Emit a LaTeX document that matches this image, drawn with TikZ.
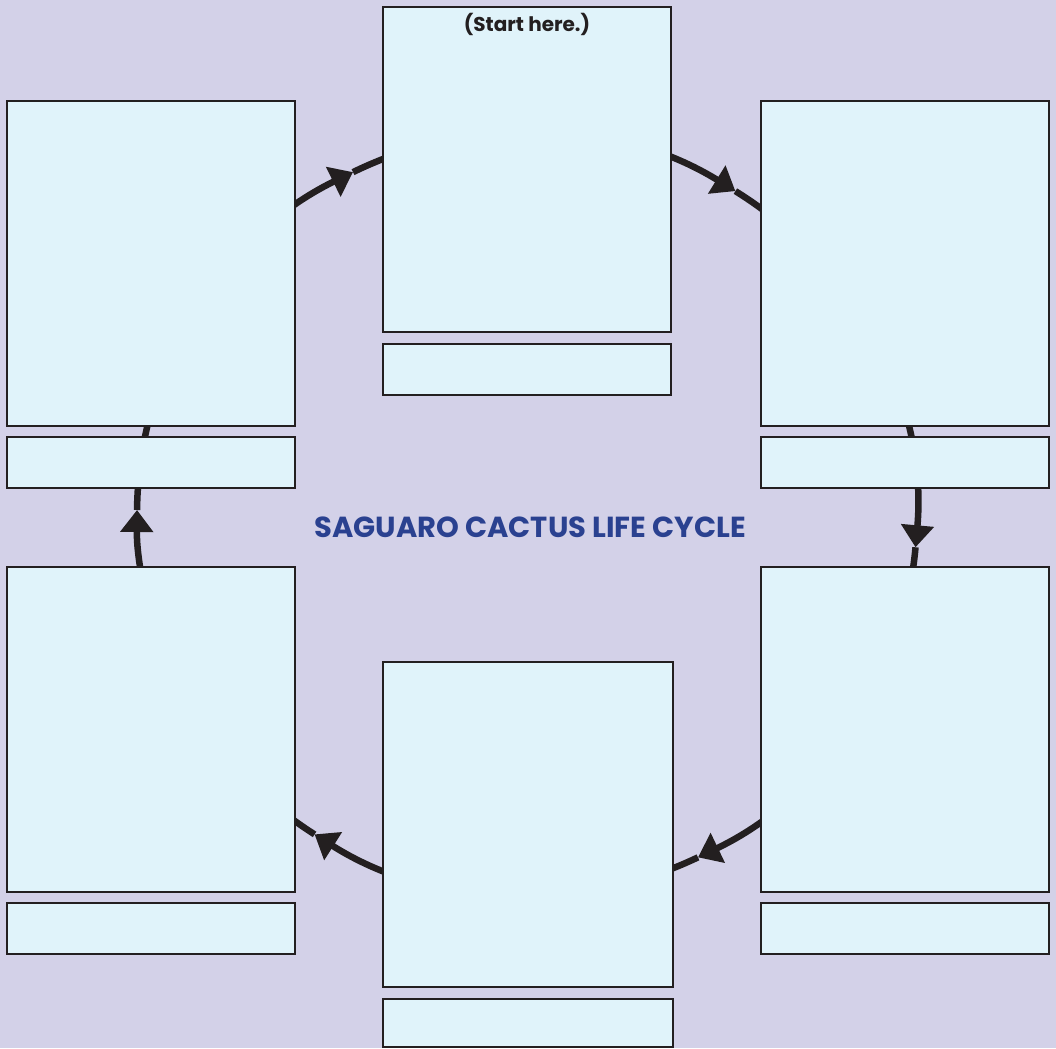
\documentclass[tikz,border=0pt]{standalone}
\usepackage{fontspec}
\setmainfont{Poppins}
\usetikzlibrary{arrows.meta,calc}
\begin{document}
\definecolor{bgc}{HTML}{D3D1E8}
\definecolor{boxc}{HTML}{E0F3FA}
\definecolor{edgec}{HTML}{231F20}
\definecolor{titlec}{HTML}{2A4190}
\tikzset{
  bigbox/.style={draw=edgec, fill=boxc, line width=2.4pt, outer sep=0pt, inner sep=0pt, anchor=north west, minimum width=288pt, minimum height=325pt},
  smallbox/.style={draw=edgec, fill=boxc, line width=2.4pt, outer sep=0pt, inner sep=0pt, anchor=north west, minimum width=288pt, minimum height=51pt},
  cyc/.style={draw=edgec, line width=6.5pt},
  tip/.style={-{Triangle[length=22pt,width=32pt]}},
  titletext/.style={text=titlec, font=\fontsize{29}{34}\selectfont\bfseries},
  starttext/.style={text=edgec, font=\fontsize{20}{24}\selectfont\bfseries}
}
\begin{tikzpicture}[x=1pt,y=1pt]
\useasboundingbox (0,0) rectangle (1056,-1048);
\fill[bgc] (0,0) rectangle (1056,-1048);
\coordinate (c) at (527,-514);
% cycle connector
\foreach \a/\b in {200/179.4, 179.4/116.5, 116.5/57.7, 57.7/-5, -5/-64, -64/-123}
  \draw[cyc,tip] ($(c)+(\a:390pt and 382pt)$) arc[start angle=\a, end angle=\b, x radius=390pt, y radius=382pt];
\draw[cyc] ($(c)+(-123:390pt and 382pt)$) arc[start angle=-123, end angle=-160, x radius=390pt, y radius=382pt];
% boxes
\node[bigbox] (tc) at (383,-7) {};
\node[smallbox] (tcs) at (383,-344) {};
\node[bigbox] (tl) at (7,-101) {};
\node[smallbox] (tls) at (7,-437) {};
\node[bigbox] (tr) at (761,-101) {};
\node[smallbox] (trs) at (761,-437) {};
\node[bigbox] (bl) at (7,-567) {};
\node[smallbox] (bls) at (7,-903) {};
\node[bigbox] (br) at (761,-567) {};
\node[smallbox] (brs) at (761,-903) {};
\node[bigbox, minimum width=290pt] (bc) at (383,-662) {};
\node[smallbox, minimum width=290pt, minimum height=48pt] (bcs) at (383,-999) {};
% texts
\node[starttext, anchor=center] (start) at (527,-24) {(Start here.)};
\node[titletext, anchor=center] (title) at (530,-527) {SAGUARO CACTUS LIFE CYCLE};
\end{tikzpicture}
\end{document}
